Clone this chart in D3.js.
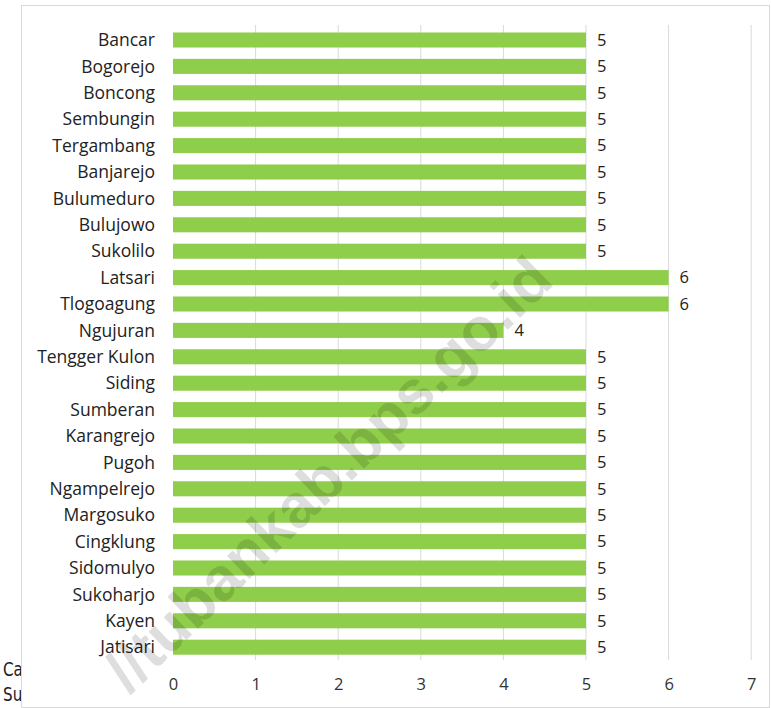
<!DOCTYPE html>
<html><head><meta charset="utf-8">
<script src="https://cdn.jsdelivr.net/npm/d3@7"></script>
<style>html,body{margin:0;padding:0;background:#fff;}svg{display:block;}</style>
</head><body>
<svg id="c" width="771" height="708"></svg>
<script>
const categories = ["Bancar","Bogorejo","Boncong","Sembungin","Tergambang","Banjarejo","Bulumeduro","Bulujowo","Sukolilo","Latsari","Tlogoagung","Ngujuran","Tengger Kulon","Siding","Sumberan","Karangrejo","Pugoh","Ngampelrejo","Margosuko","Cingklung","Sidomulyo","Sukoharjo","Kayen","Jatisari"];
const values = [5,5,5,5,5,5,5,5,5,6,6,4,5,5,5,5,5,5,5,5,5,5,5,5];
const ticks = [0,1,2,3,4,5,6,7];
const footLines = ["Catatan", "Sumber"];
const watermark = "//tubankab.bps.go.id";

const svg = d3.select("#c");
// footnote text (mostly hidden under chart frame)
svg.selectAll("text.foot").data(footLines).join("text")
  .attr("class","foot")
  .attr("transform",(d,i)=>`translate(3,${676 + i*25}) scale(0.8,1)`)
  .attr("font-family","'DejaVu Sans',sans-serif")
  .attr("font-size", 19).attr("fill","#222").text(d=>d);

svg.append("rect").attr("x",21.5).attr("y",5.5).attr("width",748).attr("height",702)
  .attr("fill","#fff").attr("stroke","#d9d9d9");

const x = d3.scaleLinear().domain([0,7]).range([173,751.2]);
const y = d3.scaleBand().domain(categories).range([26.8,660.4]).paddingInner(0.43).paddingOuter(0.215);

// gridlines
svg.append("g").selectAll("line").data(ticks.filter(t=>t>0)).join("line")
  .attr("x1",d=>x(d)).attr("x2",d=>x(d)).attr("y1",25).attr("y2",660)
  .attr("stroke","#d9d9d9").attr("stroke-width",1);

// x axis labels
const xAxis = d3.axisBottom(x).tickValues(ticks).tickFormat(d3.format("d")).tickSize(0).tickPadding(0);
const ga = svg.append("g").attr("transform","translate(0,678)").call(xAxis);
ga.select(".domain").remove();
ga.selectAll("text").attr("font-family","'Open Sans',sans-serif").attr("font-size",16.5).attr("fill","#333");

// bars
svg.append("g").selectAll("rect").data(categories).join("rect")
  .attr("x",x(0)).attr("y",d=>y(d))
  .attr("width",(d,i)=>x(values[i])-x(0)).attr("height",y.bandwidth())
  .attr("fill","#8fce4a");

// category labels
svg.append("g").selectAll("text").data(categories).join("text")
  .attr("x",155).attr("y",d=>y(d)+y.bandwidth()/2)
  .attr("dy","0.35em").attr("text-anchor","end")
  .attr("font-family","'Open Sans',sans-serif").attr("font-size",17.5).attr("fill","#222")
  .text(d=>d);

// value labels
svg.append("g").selectAll("text").data(categories).join("text")
  .attr("x",(d,i)=>x(values[i])+11).attr("y",d=>y(d)+y.bandwidth()/2)
  .attr("dy","0.35em")
  .attr("font-family","'Open Sans',sans-serif").attr("font-size",16.5).attr("fill","#222")
  .text((d,i)=>values[i]);

// watermark
svg.append("text").attr("transform","translate(328,474) rotate(-44)")
  .attr("text-anchor","middle").attr("dominant-baseline","central")
  .attr("font-family","'Liberation Sans',Arial,sans-serif").attr("font-weight","bold")
  .attr("font-size",61).attr("fill","#000").attr("fill-opacity",0.13)
  .text(watermark);
</script>
</body></html>
